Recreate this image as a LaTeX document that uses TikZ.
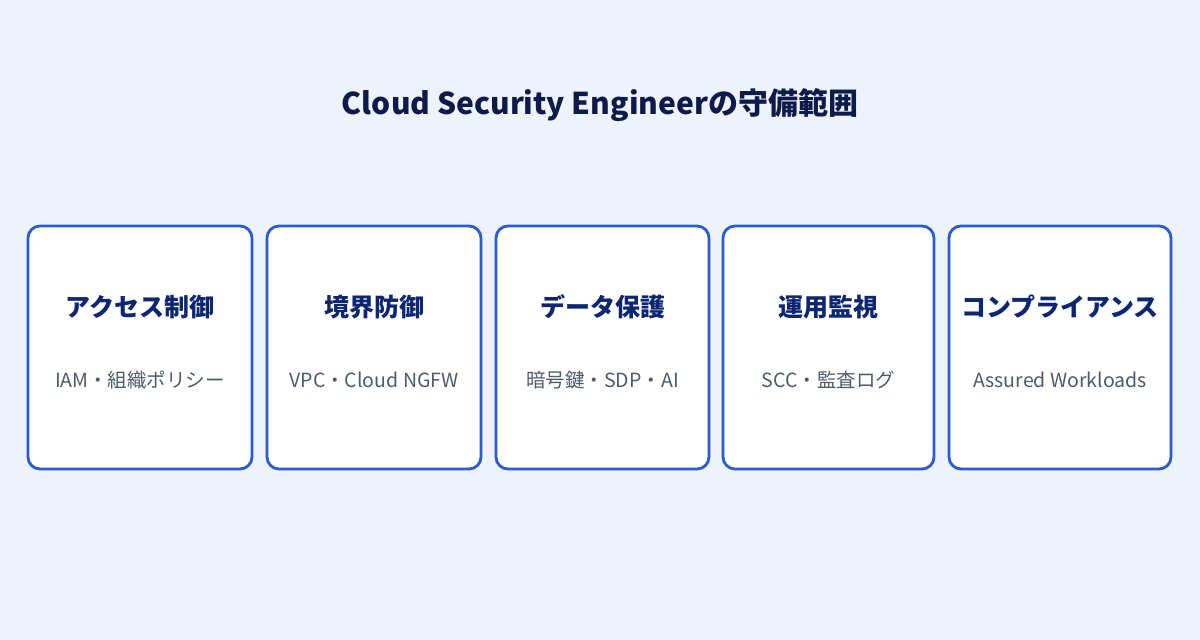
\documentclass[tikz,border=0pt]{standalone}
\usepackage{fontspec}
\setmainfont{Noto Sans CJK JP}
\definecolor{bgc}{HTML}{EEF2FA}
\definecolor{boxline}{HTML}{2A5BD4}
\definecolor{titlec}{HTML}{0E1A4A}
\definecolor{headc}{HTML}{0C2674}
\definecolor{subc}{HTML}{4F5A6B}
\begin{document}
\begin{tikzpicture}[x=1pt,y=-1pt,
  card/.style={draw=boxline,line width=2.8pt,fill=white,rounded corners=12pt},
  head/.style={font=\fontsize{25}{29}\selectfont\bfseries,text=headc,anchor=center},
  sub/.style={font=\fontsize{19.5}{23}\selectfont,text=subc,anchor=center},
  ttl/.style={font=\fontsize{30}{34}\selectfont\bfseries,text=titlec,anchor=center}]
\fill[bgc] (0,0) rectangle (1200,640);
\useasboundingbox (0,0) rectangle (1200,640);
\node[ttl] (title) at (600,105) {Cloud Security Engineerの守備範囲};
\foreach \i/\l/\r/\h/\s in {1/28/252/アクセス制御/IAM・組織ポリシー,
  2/267/481/境界防御/VPC・Cloud NGFW,
  3/496/709/データ保護/暗号鍵・SDP・AI,
  4/723/934/運用監視/SCC・監査ログ,
  5/949/1171/コンプライアンス/Assured Workloads}{
  \draw[card] (\l,226) rectangle (\r,469);
  \node[head] (h\i) at ({(\l+\r)/2},307) {\h};
  \node[sub] (s\i) at ({(\l+\r)/2},380) {\s};
}
\end{tikzpicture}
\end{document}
